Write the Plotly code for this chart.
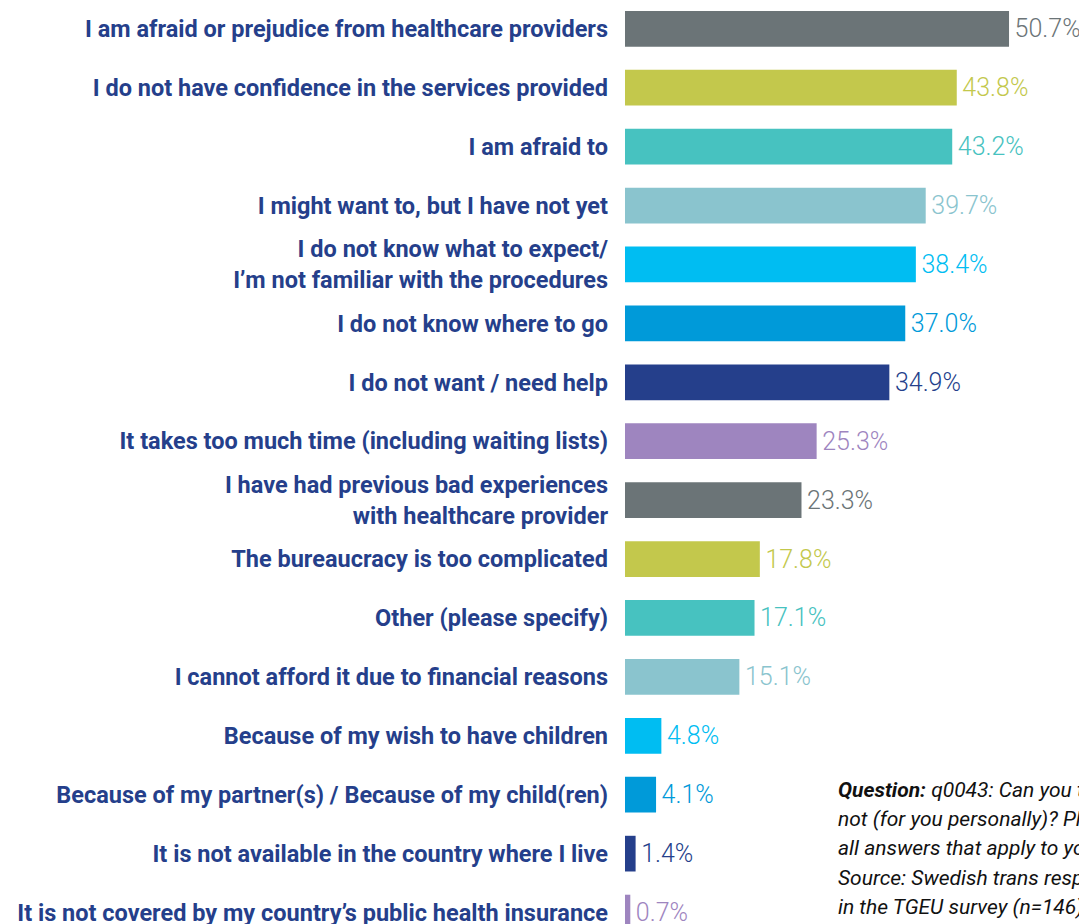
import plotly.graph_objects as go

# Categories, top to bottom
labels = [
    "I am afraid or prejudice from healthcare providers",
    "I do not have confidence in the services provided",
    "I am afraid to",
    "I might want to, but I have not yet",
    "I do not know what to expect/<br>I’m not familiar with the procedures",
    "I do not know where to go",
    "I do not want / need help",
    "It takes too much time (including waiting lists)",
    "I have had previous bad experiences<br>with healthcare provider",
    "The bureaucracy is too complicated",
    "Other (please specify)",
    "I cannot afford it due to financial reasons",
    "Because of my wish to have children",
    "Because of my partner(s) / Because of my child(ren)",
    "It is not available in the country where I live",
    "It is not covered by my country’s public health insurance",
]
values = [50.7, 43.8, 43.2, 39.7, 38.4, 37.0, 34.9, 25.3,
          23.3, 17.8, 17.1, 15.1, 4.8, 4.1, 1.4, 0.7]

palette = ["#6b7477", "#c3c84c", "#47c2c0", "#8ac4ce",
           "#00bdf2", "#009ad9", "#253f8b", "#9e85bf"]
colors = [palette[i % len(palette)] for i in range(len(values))]

note_lines = [
    "<b>Question:</b> q0043: Can you tell us why you have",
    "not (for you personally)? Please select",
    "all answers that apply to you.",
    "Source: Swedish trans respondents",
    "in the TGEU survey (n=146)",
]

LABEL_BLUE = "#253f8b"

fig = go.Figure(
    go.Bar(
        x=values,
        y=labels,
        orientation="h",
        width=0.606,
        marker=dict(color=colors, line_width=0),
        texttemplate="\u200a%{x:.1f}%",
        textposition="outside",
        constraintext="none",
        cliponaxis=False,
        textfont=dict(family="Roboto, sans-serif", weight=300, size=25, color=colors),
        hoverinfo="skip",
    )
)

# footnote, one annotation per line to keep the tight line spacing
for i, line in enumerate(note_lines):
    fig.add_annotation(
        xref="paper", yref="paper",
        x=0.449, y=1 - (782 + 29.2 * i) / 924,
        xanchor="left", yanchor="middle",
        align="left", showarrow=False,
        text=line,
        font=dict(family="Roboto, sans-serif", size=21, style="italic", color="#111111"),
    )

fig.update_layout(
    width=1087,
    height=924,
    margin=dict(l=617, r=0, t=0, b=0),
    paper_bgcolor="white",
    plot_bgcolor="white",
    showlegend=False,
    xaxis=dict(range=[0, 62.05], visible=False),
    yaxis=dict(
        categoryorder="array",
        categoryarray=labels,
        range=[15.33, -0.353],
        automargin=False,
        showgrid=False,
        showline=False,
        ticks="",
        ticklabelstandoff=16,
        tickfont=dict(family="Roboto, sans-serif", size=23.5, weight="bold", color=LABEL_BLUE),
    ),
)

fig.write_html("out.html")
